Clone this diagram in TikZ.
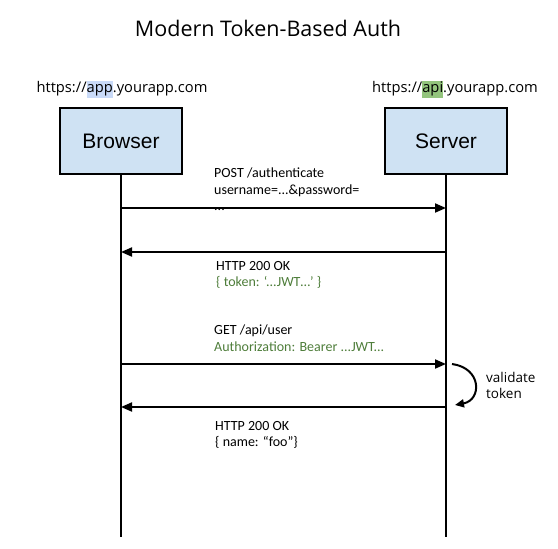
\documentclass[tikz,border=0pt]{standalone}
\usepackage{fontspec}
\setmainfont{Open Sans}
\newfontfamily\boxfont{Liberation Sans}
\newfontfamily\msgfont{Carlito}
\usetikzlibrary{arrows.meta}
\definecolor{boxfill}{HTML}{CFE2F3}
\definecolor{apphl}{HTML}{C9DAF8}
\definecolor{apihl}{HTML}{93C47D}
\definecolor{msggreen}{HTML}{4E7D3A}
\begin{document}
\begin{tikzpicture}[x=1pt,y=-1pt,
  actor/.style={draw=black,line width=2pt,fill=boxfill,minimum width=122pt,minimum height=66pt,font=\boxfont\fontsize{21}{25}\selectfont,inner sep=0pt},
  lifeline/.style={line width=2pt},
  msg/.style={line width=2pt,-{Triangle[length=11pt,width=9pt]}},
  lbl/.style={anchor=north west,align=left,inner sep=0pt,font=\msgfont\fontsize{14}{16.5}\selectfont},
  url/.style={inner sep=0pt,font=\fontsize{14.7}{17}\selectfont}]
\useasboundingbox (0,0) rectangle (558,549);
\setlength\fboxsep{0pt}
\node[font=\fontsize{21.5}{25}\selectfont,inner sep=0pt] (title) at (268,28) {Modern Token-Based Auth};
\node[url] (urlb) at (122,89) {https://\colorbox{apphl}{\strut app}.yourapp.com};
\node[url] (urls) at (455,89) {https://\colorbox{apihl}{\strut api}.yourapp.com};
\node[actor] (browser) at (121,141) {Browser};
\node[actor] (server) at (446,141) {Server};
\coordinate (bend) at (121,537);
\coordinate (send) at (446,537);
\draw[lifeline] (browser.south) -- (bend);
\draw[lifeline] (server.south) -- (send);
% messages
\coordinate (b1) at (121,208); \coordinate (s1) at (446,208);
\coordinate (b2) at (121,252); \coordinate (s2) at (446,252);
\coordinate (b3) at (121,364); \coordinate (s3) at (446,364);
\coordinate (b4) at (121,407); \coordinate (s4) at (446,407);
\draw[msg] (b1) -- (s1);
\draw[msg] (s2) -- (b2);
\draw[msg] (b3) -- (s3);
\draw[msg] (s4) -- (b4);
\coordinate (c1) at (452,364);
\coordinate (c2) at (455,405);
\draw[line width=2pt,-{Triangle[length=9pt,width=8pt]}] (c1) .. controls (482,368) and (482,400) .. (c2);
\node[lbl] (m1) at (214,168) {POST /authenticate\\username=...\&password=\\...};
\node[lbl] (m2) at (216,261) {HTTP 200 OK\\\textcolor{msggreen}{\{ token: ‘...JWT\dots’ \}}};
\node[lbl] (m3) at (214,325) {GET /api/user\\\textcolor{msggreen}{Authorization: Bearer ...JWT...}};
\node[lbl] (m4) at (215,421) {HTTP 200 OK\\\{ name: “foo”\}};
\node[lbl,font=\fontsize{13.5}{16.5}\selectfont] (v) at (486,372) {validate\\token};
\end{tikzpicture}
\end{document}
